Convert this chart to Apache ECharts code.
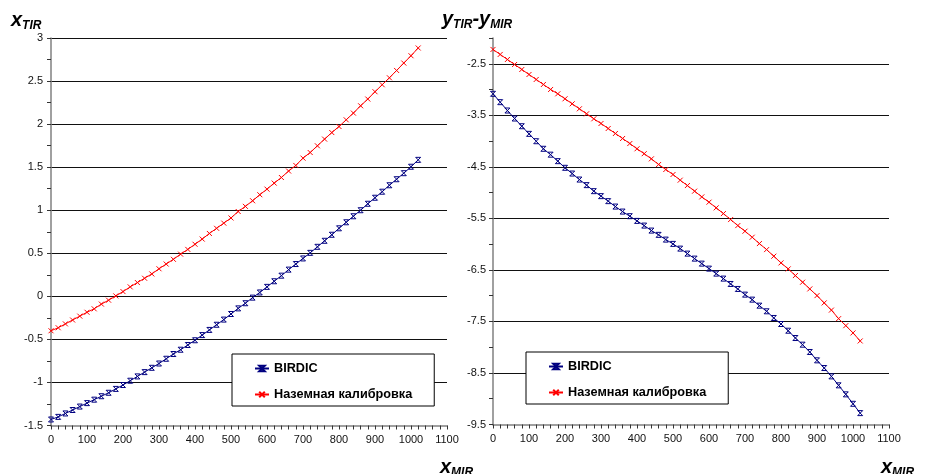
<!DOCTYPE html>
<html>
<head>
<meta charset="utf-8">
<script src="https://cdn.jsdelivr.net/npm/echarts@6/dist/echarts.min.js"></script>
<style>
html,body{margin:0;padding:0;background:#fff;}
#main{width:930px;height:474px;}
</style>
</head>
<body>
<div id="main"></div>
<script>
// x_MIR, шаг 20
var xMir = [0,20,40,60,80,100,120,140,160,180,200,220,240,260,280,300,320,340,360,380,
    400,420,440,460,480,500,520,540,560,580,600,620,640,660,680,700,720,740,760,780,
    800,820,840,860,880,900,920,940,960,980,1000,1020];

// левый график: x_TIR
var birdicXtir = [-1.43,-1.40,-1.36,-1.32,-1.28,-1.24,-1.20,-1.16,-1.12,-1.075,
    -1.03,-0.98,-0.93,-0.88,-0.83,-0.78,-0.725,-0.67,-0.62,-0.565,
    -0.51,-0.45,-0.39,-0.33,-0.27,-0.205,-0.14,-0.08,-0.015,0.045,
    0.11,0.175,0.24,0.31,0.375,0.44,0.505,0.575,0.645,0.715,
    0.79,0.86,0.93,1.0,1.075,1.145,1.215,1.29,1.36,1.43,1.505,1.585];
var groundXtir = [-0.40,-0.365,-0.32,-0.275,-0.23,-0.185,-0.145,-0.09,-0.045,0.005,
    0.055,0.11,0.16,0.21,0.26,0.32,0.375,0.43,0.49,0.545,
    0.605,0.665,0.73,0.79,0.85,0.91,0.985,1.045,1.11,1.18,
    1.245,1.315,1.38,1.455,1.52,1.605,1.67,1.748,1.826,1.902,
    1.972,2.05,2.128,2.213,2.291,2.376,2.457,2.538,2.623,2.709,2.794,2.884];

// правый график: y_TIR - y_MIR
var birdicYdiff = [-3.083,-3.245,-3.407,-3.562,-3.712,-3.86,-4.003,-4.15,-4.264,-4.39,
    -4.519,-4.63,-4.747,-4.855,-4.972,-5.069,-5.166,-5.271,-5.368,-5.458,
    -5.549,-5.64,-5.737,-5.82,-5.912,-5.995,-6.087,-6.184,-6.281,-6.378,
    -6.475,-6.572,-6.669,-6.773,-6.87,-6.98,-7.077,-7.194,-7.303,-7.433,
    -7.55,-7.68,-7.822,-7.951,-8.093,-8.255,-8.404,-8.566,-8.74,-8.915,-9.098,-9.279];
var groundYdiff = [-2.222,-2.319,-2.417,-2.514,-2.611,-2.708,-2.805,-2.902,-2.999,-3.083,
    -3.18,-3.277,-3.374,-3.471,-3.568,-3.659,-3.756,-3.853,-3.95,-4.048,
    -4.15,-4.245,-4.345,-4.455,-4.552,-4.649,-4.759,-4.863,-4.972,-5.083,
    -5.186,-5.296,-5.407,-5.523,-5.64,-5.749,-5.866,-5.989,-6.106,-6.234,
    -6.364,-6.481,-6.61,-6.739,-6.869,-6.999,-7.141,-7.28,-7.446,-7.582,-7.723,-7.879];

var seriesNames = ['BIRDIC', 'Наземная калибровка'];

var FONT = 'Arial, "Liberation Sans", sans-serif';
var BLUE = '#000080', RED = '#ff0000';
var starPath = 'path://M0,0L10,0L0,10L10,10Z';
var crossPath = 'path://M0,0L10,10M10,0L0,10';

function pairs(xs, ys) {
    return xs.map(function (x, i) { return [x, ys[i]]; });
}

function xAxisCfg(gridIndex) {
    return {
        type: 'value', gridIndex: gridIndex, min: 0, max: 1100, interval: 100,
        axisLine: {onZero: false, lineStyle: {color: '#808080', width: 1.5}},
        axisTick: {length: 4, lineStyle: {color: '#333'}},
        minorTick: {show: true, splitNumber: 5, length: 4, lineStyle: {color: '#333'}},
        axisLabel: {fontFamily: FONT, fontSize: 11, color: '#111', margin: 9,
            formatter: function (v) { return String(v); }},
        splitLine: {show: false}
    };
}

function titleCfg(text, left, top) {
    return {
        text: text, left: left, top: top, padding: 0,
        textStyle: {
            rich: {
                m: {fontFamily: FONT, fontSize: 20, fontStyle: 'italic', color: '#000', lineHeight: 24},
                s: {fontFamily: FONT, fontSize: 12, fontStyle: 'italic', color: '#000', lineHeight: 8, verticalAlign: 'bottom'}
            }
        }
    };
}

function legendCfg(left, top) {
    return {
        data: seriesNames, orient: 'vertical', left: left, top: top,
        backgroundColor: '#fff', borderColor: '#000', borderWidth: 1,
        padding: [8, 22, 5, 22], itemGap: 13, itemWidth: 14, itemHeight: 7,
        textStyle: {fontFamily: FONT, fontSize: 12.7, fontWeight: 'bold', color: '#000'},
        selectedMode: false
    };
}

function lineSeries(name, color, sym, xIdx, yIdx, data) {
    return {
        name: name, type: 'line', xAxisIndex: xIdx, yAxisIndex: yIdx,
        data: data, symbol: sym, symbolSize: 5,
        lineStyle: {color: color, width: 1},
        itemStyle: {color: 'rgba(0,0,0,0)', borderColor: color, borderWidth: 1},
        z: name === 'BIRDIC' ? 3 : 2
    };
}

var chart = echarts.init(document.getElementById('main'));

var option = {
    animation: false,
    backgroundColor: '#fff',
    title: [
        titleCfg('{m|x}{s|TIR}', 11, 8),
        titleCfg('{m|y}{s|TIR}{m|-y}{s|MIR}', 442, 7),
        titleCfg('{m|x}{s|MIR}', 440, 455),
        titleCfg('{m|x}{s|MIR}', 881, 455)
    ],
    legend: [legendCfg(232, 354), legendCfg(526, 352)],
    grid: [
        {left: 51, top: 38, width: 396, height: 387.5},
        {left: 493, top: 38, width: 396, height: 386.5}
    ],
    xAxis: [xAxisCfg(0), xAxisCfg(1)],
    yAxis: [
        {
            type: 'value', gridIndex: 0, min: -1.5, max: 3, interval: 0.5,
            axisLine: {show: true, lineStyle: {color: '#808080', width: 1.5}},
            axisTick: {show: true, length: 4, lineStyle: {color: '#333'}},
            minorTick: {show: true, splitNumber: 2, length: 4, lineStyle: {color: '#333'}},
            axisLabel: {fontFamily: FONT, fontSize: 11, color: '#111', margin: 8},
            splitLine: {show: true, showMinLine: false, lineStyle: {color: '#111', width: 1}}
        },
        {
            type: 'value', gridIndex: 1, min: -9.5, max: -2, interval: 0.5,
            axisLine: {show: true, lineStyle: {color: '#808080', width: 1.5}},
            axisTick: {show: true, length: 4, lineStyle: {color: '#333'}},
            axisLabel: {
                fontFamily: FONT, fontSize: 11, color: '#111', margin: 7,
                formatter: function (v) { return Math.abs(v % 1) === 0.5 ? String(v) : ''; }
            },
            splitLine: {show: true, showMinLine: false, showMaxLine: false,
                lineStyle: {color: ['rgba(0,0,0,0)', '#111'], width: 1}}
        }
    ],
    series: [
        lineSeries(seriesNames[0], BLUE, starPath, 0, 0, pairs(xMir, birdicXtir)),
        lineSeries(seriesNames[1], RED, crossPath, 0, 0, pairs(xMir, groundXtir)),
        lineSeries(seriesNames[0], BLUE, starPath, 1, 1, pairs(xMir, birdicYdiff)),
        lineSeries(seriesNames[1], RED, crossPath, 1, 1, pairs(xMir, groundYdiff))
    ]
};

chart.setOption(option);
</script>
</body>
</html>
